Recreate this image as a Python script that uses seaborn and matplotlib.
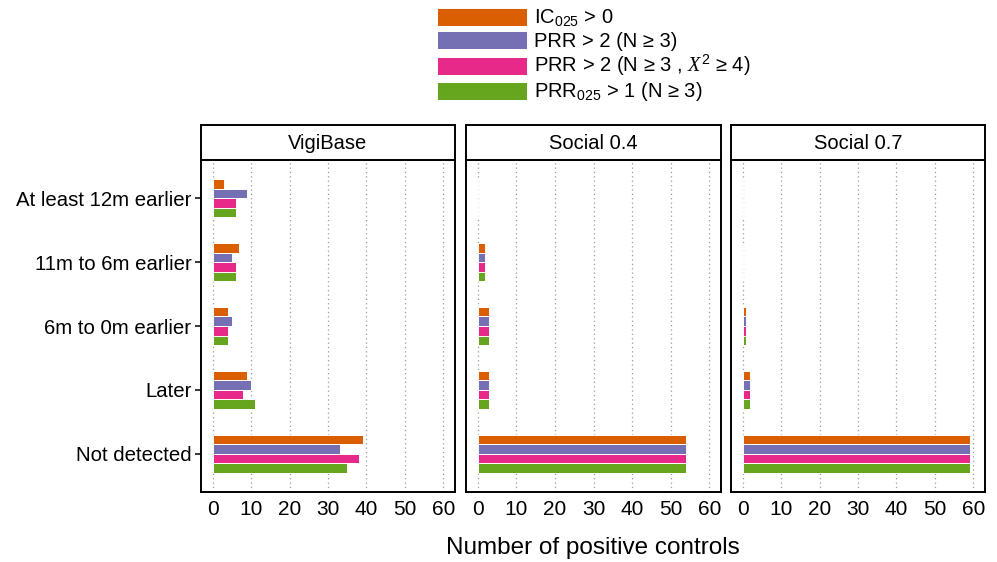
import numpy as np
import pandas as pd
import matplotlib
matplotlib.use("Agg")
import matplotlib.pyplot as plt
from matplotlib.patches import Rectangle
import seaborn as sns

# Detection timing categories (top to bottom)
timings = ["At least 12m earlier", "11m to 6m earlier", "6m to 0m earlier",
           "Later", "Not detected"]
sources = ["VigiBase", "Social 0.4", "Social 0.7"]
methods = ["IC025", "PRR", "PRR_chi", "PRR025"]
method_labels = [
    r"IC$_{025}$ > 0",
    "PRR > 2 (N ≥ 3)",
    r"PRR > 2 (N ≥ 3 , $X^2$ ≥ 4)",
    r"PRR$_{025}$ > 1 (N ≥ 3)",
]
palette = ["#D95F02", "#7570B3", "#E7298A", "#66A61E"]

# Number of positive controls per source / method / timing
vigibase_ic025 = [3, 7, 4, 9, 39]
vigibase_prr = [9, 5, 5, 10, 33]
vigibase_prr_chi = [6, 6, 4, 8, 38]
vigibase_prr025 = [6, 6, 4, 11, 35]

social04_ic025 = [0, 2, 3, 3, 54]
social04_prr = [0, 2, 3, 3, 54]
social04_prr_chi = [0, 2, 3, 3, 54]
social04_prr025 = [0, 2, 3, 3, 54]

social07_ic025 = [0, 0, 1, 2, 59]
social07_prr = [0, 0, 1, 2, 59]
social07_prr_chi = [0, 0, 1, 2, 59]
social07_prr025 = [0, 0, 1, 2, 59]

counts = {
    "VigiBase": [vigibase_ic025, vigibase_prr, vigibase_prr_chi, vigibase_prr025],
    "Social 0.4": [social04_ic025, social04_prr, social04_prr_chi, social04_prr025],
    "Social 0.7": [social07_ic025, social07_prr, social07_prr_chi, social07_prr025],
}

rows = []
for src in sources:
    for m, vals in zip(methods, counts[src]):
        for t, v in zip(timings, vals):
            rows.append({"source": src, "method": m, "timing": t, "n": v})
df = pd.DataFrame(rows)

sns.set_theme(style="white")
plt.rcParams["font.family"] = ["Liberation Sans", "DejaVu Sans"]
plt.rcParams["mathtext.fontset"] = "custom"
plt.rcParams["mathtext.rm"] = "Liberation Sans"
plt.rcParams["mathtext.it"] = "Liberation Serif:italic"
plt.rcParams["text.color"] = "black"
plt.rcParams["axes.labelcolor"] = "black"

W, H = 997, 562
fig = plt.figure(figsize=(W / 100, H / 100), dpi=100)

panel_x = [(201, 455), (466, 721), (731, 985)]
plot_top, plot_bottom = 160, 492
strip_top = 125

for i, (src, (x0, x1)) in enumerate(zip(sources, panel_x)):
    ax = fig.add_axes([x0 / W, 1 - plot_bottom / H, (x1 - x0) / W,
                       (plot_bottom - plot_top) / H])
    sub = df[df["source"] == src]
    sns.barplot(data=sub, x="n", y="timing", hue="method", order=timings,
                hue_order=methods, palette=palette, orient="h", width=0.6,
                edgecolor="white", linewidth=0.7, ax=ax, legend=False,
                errorbar=None, saturation=1)
    ax.set_xlim(-3, 63)
    ax.set_ylim(4.6, -0.6)
    ax.set_xticks(np.arange(0, 61, 10))
    ax.xaxis.grid(True, linestyle=(0, (1, 2.5)), color="#9a9a9a", linewidth=0.9)
    ax.yaxis.grid(False)
    ax.set_axisbelow(True)
    ax.set_xlabel("")
    ax.set_ylabel("")
    for s in ax.spines.values():
        s.set_color("black")
        s.set_linewidth(1.4)
    ax.tick_params(axis="x", direction="out", length=4, width=1.1,
                   colors="black", labelsize=15, pad=2)
    if i == 0:
        ax.tick_params(axis="y", direction="out", length=4, width=1.1,
                       colors="black", labelsize=14.7, pad=3, left=True)
    else:
        ax.tick_params(axis="y", left=False, labelleft=False)

    # facet strip
    sax = fig.add_axes([x0 / W, 1 - plot_top / H, (x1 - x0) / W,
                        (plot_top - strip_top) / H])
    sax.set_xticks([])
    sax.set_yticks([])
    for s in sax.spines.values():
        s.set_color("black")
        s.set_linewidth(1.4)
    sax.text(0.5, 0.48, src, ha="center", va="center", fontsize=14.5,
             color="black", transform=sax.transAxes)

fig.text(593 / W, 1 - 548 / H, "Number of positive controls", ha="center",
         va="center", fontsize=17.5, color="black")

# legend: colour keys with labels, stacked above the panels
key_centres = [17, 40, 66, 91]
text_baselines = [23, 47, 72, 97]
for c, lab, yc, yb in zip(palette, method_labels, key_centres, text_baselines):
    fig.patches.append(Rectangle((437 / W, 1 - (yc + 9) / H), 90 / W, 18 / H,
                                 facecolor=c, edgecolor="white", linewidth=0.7,
                                 transform=fig.transFigure, figure=fig))
    fig.text(534 / W, 1 - yb / H, lab, ha="left", va="baseline",
             fontsize=14.5, color="black")

fig.savefig("out.png", dpi=100)
